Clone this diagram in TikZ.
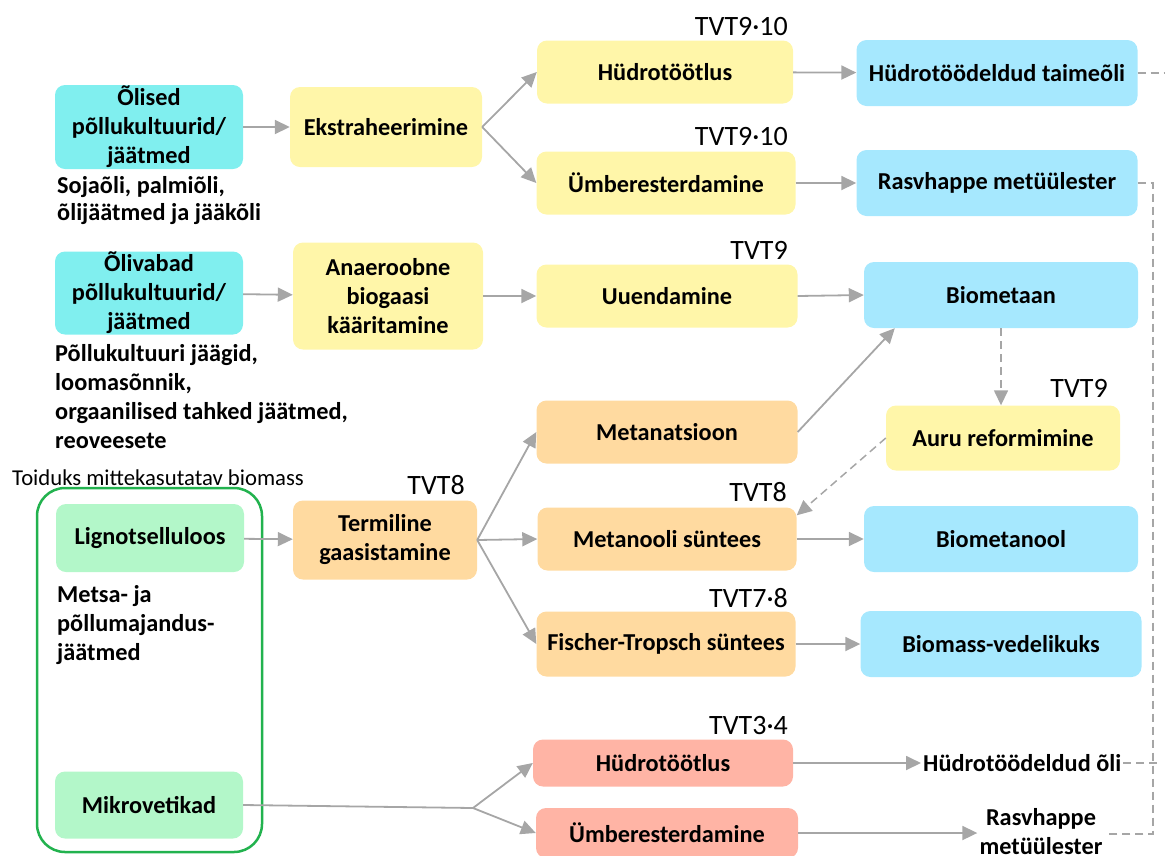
\documentclass[tikz,border=0pt]{standalone}
\usepackage{fontspec}
\setmainfont{Carlito}
\usetikzlibrary{arrows.meta}
\definecolor{cyanbox}{HTML}{80EFEF}
\definecolor{yellowbox}{HTML}{FFF6A9}
\definecolor{bluebox}{HTML}{A6E8FE}
\definecolor{orangebox}{HTML}{FFDAA0}
\definecolor{greenbox}{HTML}{B3F7C9}
\definecolor{redbox}{HTML}{FFB4A5}
\definecolor{frameg}{HTML}{22B24E}
\definecolor{arrowgray}{HTML}{A6A6A6}
\begin{document}
\begin{tikzpicture}[x=1pt,y=-1pt,
 bx/.style={rounded corners=10pt, inner sep=0pt, align=center, font=\fontsize{24.3}{29}\selectfont\bfseries, text=black},
 arr/.style={draw=arrowgray, line width=1.8pt, -{Triangle[length=15pt,width=14pt]}},
 ln/.style={draw=arrowgray, line width=1.8pt},
 dsh/.style={draw=arrowgray, line width=1.5pt, dash pattern=on 8pt off 5pt},
 darr/.style={dsh, -{Triangle[length=15pt,width=14pt]}},
 tvt/.style={anchor=base east, inner sep=0pt, font=\fontsize{28}{32}\selectfont},
 side/.style={anchor=north west, inner sep=0pt, align=left, font=\fontsize{24.3}{29}\selectfont\bfseries},
 plain/.style={inner sep=0pt, align=center, font=\fontsize{24.3}{29}\selectfont\bfseries}
]
\useasboundingbox (0,0) rectangle (1165,855);

% green frame
\draw[frameg, line width=2.5pt, rounded corners=28pt] (37,488) rectangle (262,852);
\node[anchor=base west, inner sep=0pt, font=\fontsize{22.7}{26}\selectfont] (toiduks) at (12,485) {Toiduks mittekasutatav biomass};

% row 1
\node[bx, fill=cyanbox, minimum width=188pt, minimum height=84pt] (olised) at (149,127) {Õlised\\põllukultuurid/\\jäätmed};
\node[side] (soja) at (57,176) {Sojaõli, palmiõli,\\[-2pt]õlijäätmed ja jääkõli};
\node[bx, fill=yellowbox, minimum width=192pt, minimum height=80pt] (ekstr) at (386,127) {Ekstraheerimine};
\node[bx, fill=yellowbox, minimum width=256pt, minimum height=63pt] (hyd1) at (665,72) {Hüdrotöötlus};
\node[bx, fill=yellowbox, minimum width=259pt, minimum height=63pt] (umb1) at (666,183) {Ümberesterdamine};
\node[bx, fill=bluebox, minimum width=281pt, minimum height=66pt] (taim) at (997,73) {Hüdrotöödeldud taimeõli};
\node[bx, fill=bluebox, minimum width=281pt, minimum height=66pt] (rasv) at (997,183) {Rasvhappe metüülester};
\node[tvt] (t1) at (788,35) {TVT9·10};
\node[tvt] (t2) at (788,145) {TVT9·10};

% row 2
\node[bx, fill=cyanbox, minimum width=188pt, minimum height=83pt] (olivabad) at (149,293) {Õlivabad\\põllukultuurid/\\jäätmed};
\node[side] (pollu) at (55,344) {Põllukultuuri jäägid,\\loomasõnnik,\\orgaanilised tahked jäätmed,\\reoveesete};
\node[bx, fill=yellowbox, minimum width=190pt, minimum height=107pt] (anaer) at (388,296) {Anaeroobne\\biogaasi\\kääritamine};
\node[bx, fill=yellowbox, minimum width=261pt, minimum height=63pt] (uuend) at (667,296) {Uuendamine};
\node[bx, fill=bluebox, minimum width=274pt, minimum height=66pt] (biomet) at (1001,295) {Biometaan};
\node[tvt] (t3) at (788,259) {TVT9};

% gasification block
\node[bx, fill=orangebox, minimum width=261pt, minimum height=63pt] (metan) at (667,432) {Metanatsioon};
\node[bx, fill=yellowbox, minimum width=234pt, minimum height=65pt] (auru) at (1003,438) {Auru reformimine};
\node[tvt] (t4) at (1108,397) {TVT9};
\node[bx, fill=greenbox, minimum width=188pt, minimum height=68pt] (ligno) at (150,538) {Lignotselluloos};
\node[bx, fill=orangebox, minimum width=184pt, minimum height=79pt] (termil) at (385,540) {Termiline\\gaasistamine};
\node[tvt] (t5) at (465,494) {TVT8};
\node[bx, fill=orangebox, minimum width=259pt, minimum height=63pt] (metanool) at (667,539) {Metanooli süntees};
\node[tvt] (t6) at (787,501) {TVT8};
\node[bx, fill=bluebox, minimum width=274pt, minimum height=66pt] (biometanool) at (1001,539) {Biometanool};
\node[bx, fill=orangebox, minimum width=259pt, minimum height=65pt] (fischer) at (666,644) {Fischer-Tropsch süntees};
\node[tvt] (t7) at (788,607) {TVT7·8};
\node[bx, fill=bluebox, minimum width=281pt, minimum height=66pt] (biomassv) at (1001,644) {Biomass-vedelikuks};
\node[side] (metsa) at (57,585) {Metsa- ja\\põllumajandus-\\jäätmed};

% algae
\node[bx, fill=greenbox, minimum width=188pt, minimum height=67pt] (mikro) at (149,805) {Mikrovetikad};
\node[bx, fill=redbox, minimum width=260pt, minimum height=47pt] (hyd2) at (663,763) {Hüdrotöötlus};
\node[tvt] (t8) at (788,734) {TVT3·4};
\node[bx, fill=redbox, minimum width=262pt, minimum height=50pt] (umb2) at (667,833) {Ümberesterdamine};
\node[plain, anchor=west, inner sep=2pt] (hoil) at (921,763) {Hüdrotöödeldud õli};
\node[plain, inner sep=2pt] (rasv2) at (1041,832) {Rasvhappe\\metüülester};

% connectors
\draw[arr] (olised) -- (ekstr);
\draw[arr] (ekstr.east) -- (hyd1.west);
\draw[arr] (ekstr.east) -- (umb1.west);
\draw[arr] (hyd1) -- (taim);
\draw[arr] (umb1) -- (rasv);
\draw[arr] (olivabad) -- (anaer);
\draw[arr] (anaer) -- (uuend);
\draw[arr] (uuend.east) -- (biomet.west);
\draw[arr] (metan.east) -- ([xshift=31pt]biomet.south west);
\draw[darr] (biomet.south) -- (biomet.south |- auru.north);
\draw[darr] (auru.west) -- ([yshift=-8pt]metanool.north east);
\draw[arr] (ligno) -- (termil);
\draw[arr] (termil.east) -- (metan.west);
\draw[arr] (termil.east) -- (metanool.west);
\draw[arr] (termil.east) -- (fischer.west);
\draw[arr] (metanool) -- (biometanool);
\draw[arr] (fischer.east) -- (biomassv.west);
\coordinate (split) at (473,808);
\draw[ln] (mikro.east) -- (split);
\draw[arr] (split) -- (hyd2.west);
\draw[arr] (split) -- (umb2.west);
\draw[arr] (hyd2) -- (hoil);
\draw[arr] (umb2.east) -- (rasv2.west |- umb2.east);

% dashed return lines
\coordinate (edge) at (1165,73);
\coordinate (vtop) at (1153,183);
\coordinate (vbot) at (1153,834);
\coordinate (hend) at (1162,763);
\draw[dsh] (taim.east) -- (edge);
\draw[dsh] (rasv.east) -- (vtop) -- (vbot) -- (rasv2.east |- vbot);
\draw[dsh] (hoil.east) -- (hend);
\end{tikzpicture}
\end{document}
